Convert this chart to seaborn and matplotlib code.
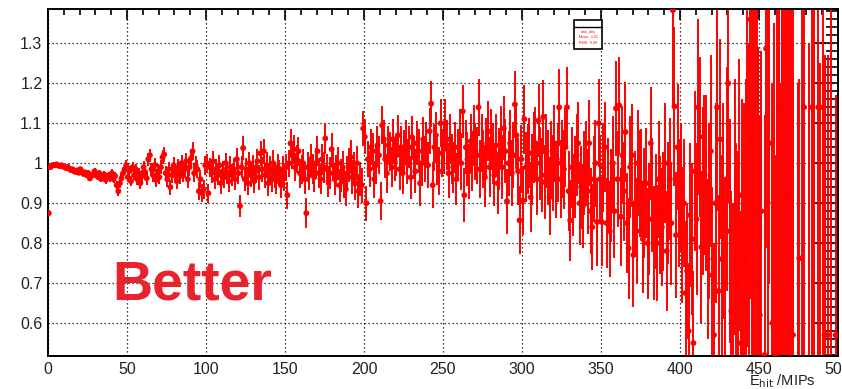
import numpy as np
import pandas as pd
import matplotlib
matplotlib.use("Agg")
import matplotlib.pyplot as plt
import seaborn as sns
from matplotlib.ticker import MultipleLocator, FuncFormatter
from matplotlib.patches import Rectangle
from matplotlib.lines import Line2D

nan = np.nan
# ---------------- data (1-MIP bins, 0..500 MIPs) ----------------
bin_edges = np.arange(0, 501, 1)

ratio_000_050 = [0.875, 0.990, 0.994, 0.996, 0.995, 0.997, 0.994, 0.993, 0.995, 0.992,
                 0.990, 0.988, 0.991, 0.986, 0.983, 0.985, 0.980, 0.978, 0.982, 0.976,
                 0.985, 0.979, 0.973, 0.977, 0.970, 0.975, 0.962, 0.968, 0.972, 0.980,
                 0.970, 0.966, 0.975, 0.961, 0.968, 0.972, 0.958, 0.966, 0.970, 0.962,
                 0.975, 0.960, 0.968, 0.945, 0.930, 0.950, 0.962, 0.975, 0.985, 0.995]
ratio_050_100 = [0.965, 0.980, 0.955, 0.990, 0.970, 0.985, 0.960, 0.975, 0.950, 0.968,
                 0.990, 0.978, 0.962, 1.010, 1.020, 0.985, 0.970, 0.995, 0.958, 0.980,
                 0.965, 0.990, 1.015, 1.022, 0.975, 0.960, 0.985, 0.940, 0.970, 0.995,
                 0.978, 0.955, 0.990, 0.968, 1.000, 0.975, 0.985, 1.005, 0.960, 0.990,
                 1.012, 1.030, 0.975, 0.995, 0.985, 0.930, 0.960, 0.925, 0.935, 0.995]
ratio_100_150 = [1.000, 0.925, 0.990, 0.975, 1.005, 0.960, 0.985, 0.970, 0.995, 0.950,
                 0.980, 0.965, 1.000, 0.975, 0.955, 0.990, 0.970, 0.985, 0.960, 1.010,
                 0.975, 0.893, 0.990, 1.038, 0.960, 0.985, 0.950, 1.000, 0.970, 0.990,
                 0.955, 0.980, 1.005, 0.965, 1.025, 0.985, 1.030, 0.970, 0.995, 0.950,
                 0.985, 0.960, 1.000, 0.970, 0.955, 0.990, 0.975, 0.945, 0.985, 0.965]
ratio_150_200 = [0.990, 0.920, 1.000, 1.050, 1.020, 1.035, 0.990, 1.010, 1.030, 0.975,
                 0.985, 1.000, 0.960, 0.875, 0.990, 0.970, 1.010, 0.985, 0.965, 1.000,
                 1.030, 0.975, 0.960, 1.010, 0.990, 1.062, 0.985, 0.955, 0.975, 1.035,
                 0.995, 0.960, 0.980, 1.000, 0.945, 0.970, 0.990, 0.955, 0.935, 0.975,
                 0.995, 1.015, 0.965, 0.985, 0.950, 1.000, 0.930, 0.960, 0.945, 1.087]
ratio_200_250 = [1.066, 0.900, 1.010, 0.985, 1.040, 1.030, 0.960, 0.995, 1.045, 1.020,
                 0.905, 1.095, 1.060, 1.010, 0.975, 1.045, 1.030, 0.990, 1.060, 1.005,
                 1.020, 1.070, 0.985, 1.040, 0.975, 1.030, 1.055, 1.000, 1.040, 0.965,
                 1.065, 1.015, 0.980, 1.050, 1.030, 0.950, 1.000, 1.060, 1.010, 1.045,
                 0.995, 1.080, 1.149, 0.945, 1.040, 1.070, 1.005, 0.980, 1.100, 1.025]
ratio_250_300 = [1.035, 1.100, 1.045, 0.975, 1.060, 1.010, 0.990, 1.040, 0.960, 1.020,
                 1.070, 1.000, 1.130, 0.920, 1.040, 1.010, 0.980, 1.055, 1.000, 1.075,
                 1.030, 1.020, 1.140, 0.985, 1.050, 1.010, 0.965, 1.040, 1.080, 0.990,
                 1.060, 1.025, 0.970, 1.045, 0.950, 1.010, 1.065, 0.990, 1.087, 1.030,
                 0.905, 1.000, 1.050, 0.975, 1.020, 1.147, 1.070, 0.980, 0.857, 1.010]
ratio_300_350 = [0.907, 1.110, 0.990, 1.010, 1.025, 0.915, 0.985, 1.040, 1.050, 0.960,
                 1.107, 1.000, 0.970, 1.116, 0.953, 1.030, 0.990, 0.915, 1.010, 0.975,
                 1.050, 0.960, 1.000, 1.140, 0.960, 1.010, 0.985, 1.040, 1.140, 0.930,
                 0.857, 0.990, 0.920, 0.965, 1.020, 1.050, 0.900, 0.940, 0.893, 0.975,
                 1.000, 0.930, 1.050, 0.880, 0.840, 0.960, 1.000, 0.853, 1.100, 0.960]
ratio_350_400 = [0.853, 0.990, 1.040, 0.850, 0.950, 0.830, 0.920, 1.000, 0.880, 1.137,
                 0.960, 1.145, 0.866, 1.020, 0.930, 1.078, 0.850, 0.787, 0.990, 1.020,
                 0.770, 0.900, 0.830, 1.000, 0.950, 0.950, 0.810, 0.900, 0.950, 0.800,
                 0.860, 1.050, 0.920, 0.800, 0.880, 0.800, 0.960, 0.870, 0.840, 0.880,
                 1.000, 0.780, 0.900, 0.960, 0.850, 1.383, 1.142, 0.820, 1.040, 0.900]
ratio_400_450 = [0.940, 0.820, 0.900, 0.675, 0.730, 0.580, 0.870, 0.810, 0.550, 0.980,
                 0.860, 1.140, 1.066, 0.790, 0.930, 0.970, 0.950, 0.760, 0.880, 1.030,
                 0.720, 0.570, 0.900, 1.140, 0.680, 1.060, 0.760, 0.880, 0.700, 0.960,
                 1.200, 0.830, 0.630, 0.600, 0.890, 0.750, 0.700, 0.920, 0.550, 0.810,
                 0.650, 0.760, 1.140, 0.500, 1.360, 1.060, 1.140, 0.700, 0.880, 0.790]
ratio_450_500 = [0.620, 0.880, nan, 0.520, 1.287, 0.900, 1.050, nan, 0.600, 0.450,
                 0.520, 1.600, 1.140, 0.300, 0.980, 1.500, 1.140, 0.916, 0.400, 0.916,
                 1.600, 0.570, nan, nan, 0.300, 0.762, nan, 1.600, 1.140, nan,
                 nan, 0.300, nan, 1.140, 1.700, nan, nan, 1.140, 0.250, nan,
                 1.140, 0.570, nan, 0.570, nan, 1.700, nan, nan, 0.570, 0.570]

err_000_050 = [0.004, 0.002, 0.002, 0.002, 0.002, 0.003, 0.003, 0.003, 0.003, 0.003,
               0.004, 0.004, 0.004, 0.004, 0.004, 0.005, 0.005, 0.005, 0.005, 0.005,
               0.006, 0.006, 0.006, 0.006, 0.006, 0.007, 0.007, 0.007, 0.007, 0.007,
               0.008, 0.008, 0.008, 0.008, 0.008, 0.009, 0.009, 0.009, 0.009, 0.009,
               0.010, 0.010, 0.010, 0.010, 0.011, 0.011, 0.011, 0.011, 0.012, 0.012]
err_050_100 = [0.012, 0.012, 0.013, 0.013, 0.013, 0.014, 0.014, 0.014, 0.014, 0.015,
               0.015, 0.015, 0.016, 0.016, 0.016, 0.016, 0.017, 0.017, 0.017, 0.017,
               0.018, 0.018, 0.018, 0.018, 0.019, 0.019, 0.019, 0.019, 0.020, 0.020,
               0.020, 0.020, 0.020, 0.021, 0.021, 0.021, 0.021, 0.021, 0.022, 0.022,
               0.022, 0.022, 0.022, 0.023, 0.023, 0.023, 0.023, 0.023, 0.024, 0.024]
err_100_150 = [0.024, 0.024, 0.024, 0.025, 0.025, 0.025, 0.025, 0.025, 0.026, 0.026,
               0.026, 0.026, 0.026, 0.027, 0.027, 0.027, 0.027, 0.027, 0.028, 0.028,
               0.028, 0.028, 0.028, 0.029, 0.029, 0.029, 0.029, 0.029, 0.030, 0.030,
               0.030, 0.030, 0.030, 0.031, 0.031, 0.031, 0.031, 0.031, 0.032, 0.032,
               0.032, 0.032, 0.032, 0.033, 0.033, 0.033, 0.033, 0.033, 0.034, 0.034]
err_150_200 = [0.034, 0.034, 0.034, 0.035, 0.035, 0.035, 0.035, 0.035, 0.036, 0.036,
               0.036, 0.036, 0.036, 0.037, 0.037, 0.037, 0.037, 0.037, 0.038, 0.038,
               0.038, 0.038, 0.038, 0.039, 0.039, 0.039, 0.039, 0.039, 0.040, 0.040,
               0.040, 0.040, 0.040, 0.041, 0.041, 0.041, 0.041, 0.041, 0.042, 0.042,
               0.042, 0.042, 0.042, 0.043, 0.043, 0.043, 0.043, 0.043, 0.044, 0.044]
err_200_250 = [0.044, 0.044, 0.045, 0.045, 0.045, 0.046, 0.046, 0.046, 0.047, 0.047,
               0.047, 0.048, 0.048, 0.048, 0.049, 0.049, 0.049, 0.050, 0.050, 0.050,
               0.051, 0.051, 0.051, 0.052, 0.052, 0.052, 0.053, 0.053, 0.053, 0.054,
               0.054, 0.054, 0.055, 0.055, 0.055, 0.056, 0.056, 0.056, 0.057, 0.057,
               0.057, 0.058, 0.058, 0.058, 0.059, 0.059, 0.059, 0.060, 0.060, 0.060]
err_250_300 = [0.061, 0.061, 0.062, 0.062, 0.063, 0.063, 0.064, 0.064, 0.065, 0.065,
               0.066, 0.066, 0.067, 0.067, 0.068, 0.068, 0.069, 0.069, 0.070, 0.070,
               0.071, 0.071, 0.072, 0.072, 0.073, 0.073, 0.074, 0.074, 0.075, 0.075,
               0.076, 0.076, 0.077, 0.077, 0.078, 0.078, 0.079, 0.079, 0.080, 0.080,
               0.081, 0.081, 0.082, 0.082, 0.083, 0.083, 0.084, 0.084, 0.085, 0.085]
err_300_350 = [0.086, 0.086, 0.087, 0.087, 0.088, 0.088, 0.089, 0.089, 0.090, 0.090,
               0.091, 0.091, 0.092, 0.092, 0.093, 0.093, 0.094, 0.094, 0.095, 0.095,
               0.096, 0.096, 0.097, 0.097, 0.098, 0.098, 0.099, 0.099, 0.100, 0.100,
               0.101, 0.101, 0.102, 0.102, 0.103, 0.103, 0.104, 0.104, 0.105, 0.105,
               0.106, 0.106, 0.107, 0.107, 0.108, 0.108, 0.109, 0.109, 0.110, 0.110]
err_350_400 = [0.110, 0.111, 0.112, 0.113, 0.114, 0.115, 0.116, 0.117, 0.118, 0.119,
               0.120, 0.121, 0.122, 0.123, 0.124, 0.125, 0.126, 0.127, 0.128, 0.129,
               0.130, 0.131, 0.132, 0.133, 0.134, 0.135, 0.136, 0.137, 0.138, 0.139,
               0.140, 0.141, 0.142, 0.143, 0.144, 0.145, 0.146, 0.147, 0.148, 0.149,
               0.150, 0.151, 0.152, 0.153, 0.154, 0.240, 0.200, 0.157, 0.158, 0.160]
err_400_450 = [0.160, 0.170, 0.160, 0.180, 0.170, 0.170, 0.180, 0.190, 0.180, 0.200,
               0.190, 0.220, 0.200, 0.190, 0.210, 0.200, 0.220, 0.200, 0.220, 0.240,
               0.220, 0.230, 0.250, 0.260, 0.240, 0.250, 0.260, 0.270, 0.260, 0.280,
               0.300, 0.280, 0.300, 0.300, 0.320, 0.300, 0.330, 0.340, 0.330, 0.350,
               0.500, 0.450, 0.600, 0.800, 0.700, 0.650, 0.700, 0.800, 0.600, 0.500]
err_450_500 = [0.500, 0.400, nan, 0.600, 0.500, 0.800, 0.350, nan, 0.600, 0.900,
               0.500, 1.200, 0.700, 0.900, 0.600, 1.000, 0.700, 0.900, 1.200, 1.000,
               1.300, 0.900, nan, nan, 0.900, 0.450, nan, 1.300, 0.700, nan,
               nan, 1.000, nan, 0.700, 1.300, nan, nan, 0.700, 1.000, nan,
               0.700, 0.700, nan, 0.700, nan, 1.300, nan, nan, 0.600, 0.600]

ratio = (ratio_000_050 + ratio_050_100 + ratio_100_150 + ratio_150_200 + ratio_200_250 +
         ratio_250_300 + ratio_300_350 + ratio_350_400 + ratio_400_450 + ratio_450_500)
err = (err_000_050 + err_050_100 + err_100_150 + err_150_200 + err_200_250 +
       err_250_300 + err_300_350 + err_350_400 + err_400_450 + err_450_500)

centres = 0.5 * (bin_edges[:-1] + bin_edges[1:])
half_w = 0.5 * np.diff(bin_edges)
df = pd.DataFrame({"E": centres, "ratio": ratio, "err": err, "xerr": half_w})

x_ticks = [0, 50, 100, 150, 200, 250, 300, 350, 400, 450, 500]
y_ticks = [0.6, 0.7, 0.8, 0.9, 1.0, 1.1, 1.2, 1.3]

# ---------------- style ----------------
sns.set_theme(style="white")
plt.rcParams["font.family"] = ["Liberation Sans", "DejaVu Sans"]

RED = "#ff0000"
fig = plt.figure(figsize=(8.42, 3.89), dpi=100)
ax = fig.add_axes([48 / 842, 33 / 389, 790 / 842, 347 / 389])

ax.errorbar(df["E"], df["ratio"], yerr=df["err"], xerr=df["xerr"], fmt="none",
            ecolor=RED, elinewidth=1.4, capsize=0, alpha=1.0, zorder=2)
sns.scatterplot(data=df.dropna(), x="E", y="ratio", ax=ax, color=RED, s=18, marker="o",
                edgecolor="none", linewidth=0, legend=False, zorder=3)

ax.set_xlim(0, 500)
ax.set_ylim(0.5175, 1.386)
ax.set_xlabel("")
ax.set_ylabel("")

ax.set_xticks(x_ticks)
ax.set_yticks(y_ticks)
ax.xaxis.set_minor_locator(MultipleLocator(10))
ax.yaxis.set_minor_locator(MultipleLocator(0.02))
ax.yaxis.set_major_formatter(FuncFormatter(lambda v, p: f"{v:g}"))
ax.xaxis.set_major_formatter(FuncFormatter(lambda v, p: f"{v:g}"))

ax.grid(True, which="major", color="black", linestyle=(0, (1, 2.2)), linewidth=0.9)
ax.set_axisbelow(True)

ax.tick_params(which="both", direction="in", top=True, right=True,
               colors="black", labelcolor="#222222", labelsize=11.5, width=1.2)
ax.tick_params(axis="y", which="major", length=17, pad=4)
ax.tick_params(axis="y", which="minor", length=9)
ax.tick_params(axis="x", which="major", length=8, pad=4)
ax.tick_params(axis="x", which="minor", length=4.5)

for s in ax.spines.values():
    s.set_color("black")
    s.set_linewidth(1.4)
    s.set_visible(True)

# x-axis title
fig.text(816 / 842, 4 / 389, r"E$_{\mathrm{hit}}$ /MIPs", ha="right", va="baseline",
         fontsize=10.5, color="#222222")

# big annotation
fig.text(112 / 842, (389 - 300) / 389, "Better", ha="left", va="baseline",
         fontsize=40, fontweight="bold", color="#e8232e")

# small stats box
bx0, by0, bw, bh = 574 / 842, (389 - 49) / 389, 28 / 842, 29 / 389
fig.patches.append(Rectangle((bx0, by0), bw, bh, transform=fig.transFigure,
                             facecolor="white", edgecolor="black", linewidth=1.2, zorder=10))
fig.lines.append(Line2D([bx0, bx0 + bw], [(389 - 27) / 389] * 2, transform=fig.transFigure,
                        color="black", linewidth=1.0, zorder=11))
for i, t in enumerate(["ratio_dist", "Mean   1.01", "RMS   0.09"]):
    fig.text(bx0 + bw / 2, (389 - 31 - 6 * i) / 389, t, ha="center", va="center",
             fontsize=2.6, color=RED, zorder=12)

fig.savefig("out.png", dpi=100)
